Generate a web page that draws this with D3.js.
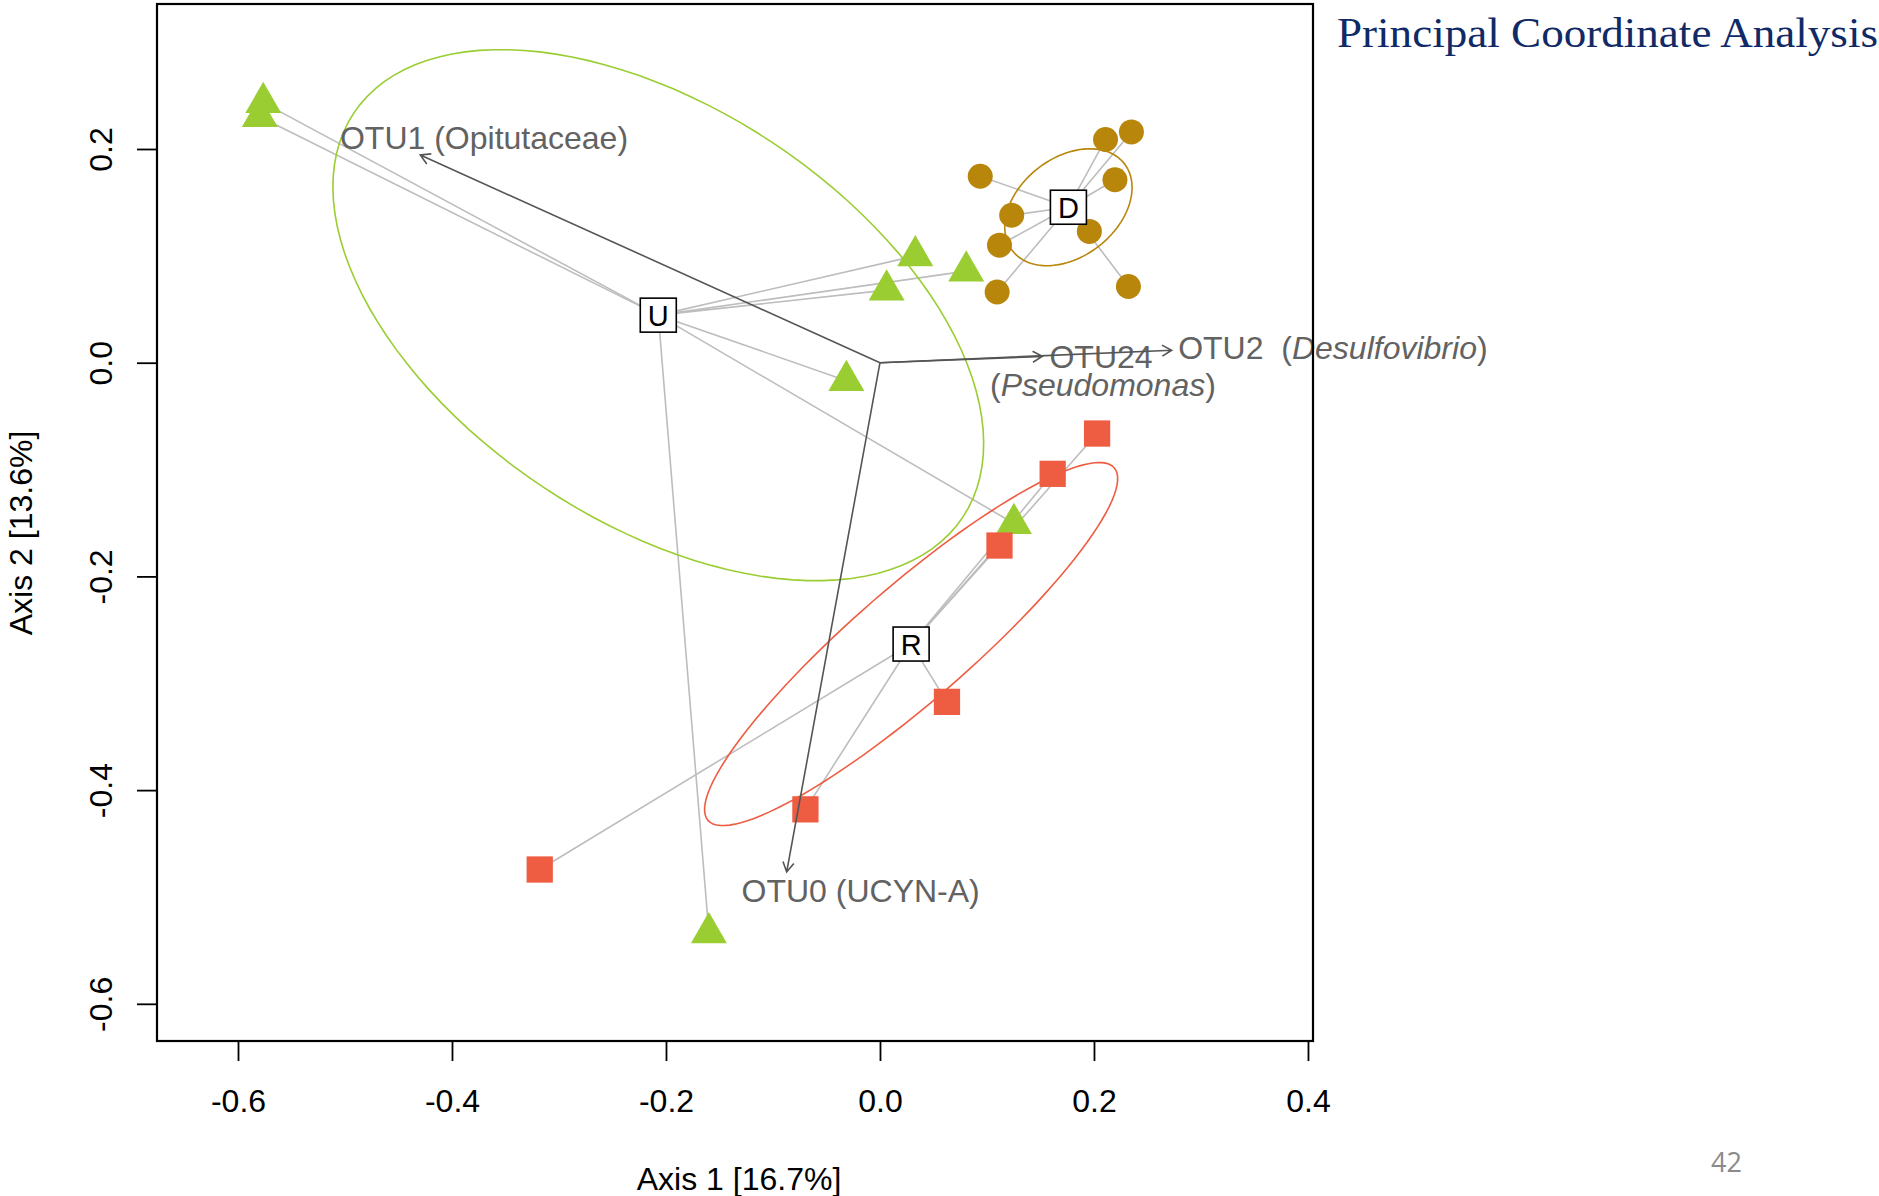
<!DOCTYPE html>
<html>
<head>
<meta charset="utf-8">
<script src="https://cdn.jsdelivr.net/npm/d3@7"></script>
<style>
  body { margin: 0; background: #fff; }
  text { font-family: "Liberation Sans", Arial, sans-serif; }
</style>
</head>
<body>
<script>
// sample scores on Axis 1 / Axis 2
var ptsU = [[-0.5764, 0.2434], [-0.5796, 0.2302], [0.0330, 0.1000], [0.0806, 0.0857],
            [0.0062, 0.0679], [-0.0314, -0.0168], [0.1252, -0.1505], [-0.1599, -0.5335]];
var ptsD = [[0.0937, 0.1745], [0.2108, 0.2089], [0.2350, 0.2160], [0.2196, 0.1712], [0.1231, 0.1380],
            [0.1957, 0.1229], [0.1117, 0.1100], [0.1095, 0.0662], [0.2322, 0.0713]];
var ptsR = [[0.2029, -0.0663], [0.1614, -0.1040], [0.1117, -0.1711], [0.0626, -0.3174],
            [-0.0697, -0.4180], [-0.3180, -0.4743]];

var groupNames = ["U", "D", "R"];
var groupCentres = [[-0.2072, 0.0445], [0.1761, 0.1455], [0.0291, -0.2633]];
// ellipse semi-axes (axis units) and tilt (degrees)
var ellA = [0.3417, 0.0663, 0.2515];
var ellB = [0.1936, 0.0462, 0.0537];
var ellAngle = [-33.6, 38, 41];

// OTU vectors from the origin
var otuNames = ["OTU1", "OTU0", "OTU24", "OTU2"];
var otuTips = [[-0.4296, 0.1944], [-0.0872, -0.4766], [0.1517, 0.0059], [0.2726, 0.0117]];
var labelAt = [[-0.5047, 0.2000], [-0.1294, -0.5044], [0.1584, -0.0045], [0.1028, -0.0312], [0.2787, 0.0037]];
var labelParts = [
  [["OTU1 (Opitutaceae)", 0]],
  [["OTU0 (UCYN-A)", 0]],
  [["OTU24", 0]],
  [["(", 0], ["Pseudomonas", 1], [")", 0]],
  [["OTU2  (", 0], ["Desulfovibrio", 1], [")", 0]]
];

var xTicks = [-0.6, -0.4, -0.2, 0.0, 0.2, 0.4];
var yTicks = [-0.6, -0.4, -0.2, 0.0, 0.2];
var xlim = [-0.6757, 0.4047], ylim = [-0.6348, 0.3357];

var W = 1879, H = 1196;
var box = {left: 157, right: 1313, top: 4, bottom: 1041};

var x = d3.scaleLinear().domain(xlim).range([box.left, box.right]);
var y = d3.scaleLinear().domain(ylim).range([box.bottom, box.top]);

var svg = d3.select("body").append("svg")
    .attr("width", W)
    .attr("height", H);

var colU = "#9ACD32", colD = "#B8860B", colR = "#EE5C42";
var groupCols = [colU, colD, colR];
var groupPts = [ptsU, ptsD, ptsR];

//spider lines
groupPts.forEach(function(pts, i) {
  svg.append("g").selectAll("line")
    .data(pts)
    .enter().append("line")
      .attr("x1", x(groupCentres[i][0]))
      .attr("y1", y(groupCentres[i][1]))
      .attr("x2", function(d) { return x(d[0]); })
      .attr("y2", function(d) { return y(d[1]); })
      .attr("stroke", "#bdbdbd")
      .attr("stroke-width", 1.6);
});

//ellipses
function ellipsePts(c, a, b, ang) {
  var th = ang * Math.PI / 180;
  return d3.range(0, 360, 3).map(function(deg) {
    var t = deg * Math.PI / 180;
    return [c[0] + a * Math.cos(t) * Math.cos(th) - b * Math.sin(t) * Math.sin(th),
            c[1] + a * Math.cos(t) * Math.sin(th) + b * Math.sin(t) * Math.cos(th)];
  });
}
var line = d3.line()
    .x(function(d) { return x(d[0]); })
    .y(function(d) { return y(d[1]); })
    .curve(d3.curveLinearClosed);

groupCentres.forEach(function(c, i) {
  svg.append("path")
    .attr("d", line(ellipsePts(c, ellA[i], ellB[i], ellAngle[i])))
    .attr("fill", "none")
    .attr("stroke", groupCols[i])
    .attr("stroke-width", 1.6);
});

//points
var shapes = [d3.symbol(d3.symbolTriangle, 561), d3.symbol(d3.symbolCircle, 491), d3.symbol(d3.symbolSquare, 690)];
groupPts.forEach(function(pts, i) {
  svg.append("g").selectAll("path")
    .data(pts)
    .enter().append("path")
      .attr("d", shapes[i])
      .attr("transform", function(d) { return "translate(" + x(d[0]) + "," + y(d[1]) + ")"; })
      .attr("fill", groupCols[i]);
});

//group labels
var gl = svg.append("g").selectAll("g")
    .data(groupCentres)
    .enter().append("g")
      .attr("transform", function(d) { return "translate(" + x(d[0]) + "," + y(d[1]) + ")"; });
gl.append("rect")
    .attr("x", -18).attr("y", -17)
    .attr("width", 36).attr("height", 34)
    .attr("fill", "#fff")
    .attr("stroke", "#000")
    .attr("stroke-width", 1.6);
gl.append("text")
    .attr("text-anchor", "middle")
    .attr("y", 10.5)
    .attr("font-size", "29px")
    .text(function(d, i) { return groupNames[i]; });

//OTU labels
labelAt.forEach(function(p, i) {
  var t = svg.append("text")
      .attr("x", x(p[0]))
      .attr("y", y(p[1]))
      .attr("font-size", "32px")
      .attr("fill", "#626262")
      .style("white-space", "pre");
  labelParts[i].forEach(function(part) {
    t.append("tspan")
      .attr("font-style", part[1] ? "italic" : "normal")
      .text(part[0]);
  });
});

//OTU arrows
var x0 = x(0), y0 = y(0);
otuTips.forEach(function(tip, i) {
  var tx = x(tip[0]), ty = y(tip[1]);
  var ang = Math.atan2(ty - y0, tx - x0), len = 11, spread = Math.PI / 6;
  var p = d3.path();
  p.moveTo(x0, y0); p.lineTo(tx, ty);
  p.moveTo(tx - len * Math.cos(ang - spread), ty - len * Math.sin(ang - spread));
  p.lineTo(tx, ty);
  p.lineTo(tx - len * Math.cos(ang + spread), ty - len * Math.sin(ang + spread));
  svg.append("path")
    .attr("class", "arrow " + otuNames[i])
    .attr("d", p.toString())
    .attr("fill", "none")
    .attr("stroke", "#555")
    .attr("stroke-width", 1.6);
});

//axes
var fmt = function(d) { return d.toFixed(1); };
svg.append("g")
    .attr("transform", "translate(0," + box.bottom + ")")
    .call(d3.axisBottom(x).tickValues(xTicks).tickFormat(fmt).tickSize(20))
    .call(function(g) {
      g.select(".domain").remove();
      g.selectAll("line").attr("stroke", "#000").attr("stroke-width", 1.8);
      g.selectAll("text").attr("y", 71).attr("dy", null)
        .attr("font-size", "32px").style("font-family", "Liberation Sans, Arial, sans-serif").attr("fill", "#000");
    });

svg.append("g")
    .attr("transform", "translate(" + box.left + ",0)")
    .call(d3.axisLeft(y).tickValues(yTicks).tickFormat(fmt).tickSize(20))
    .call(function(g) {
      g.select(".domain").remove();
      g.selectAll("line").attr("stroke", "#000").attr("stroke-width", 1.8);
      g.selectAll("text").attr("x", null).attr("dy", null)
        .attr("text-anchor", "middle")
        .attr("transform", "translate(-45,0) rotate(-90)")
        .attr("font-size", "32px").style("font-family", "Liberation Sans, Arial, sans-serif").attr("fill", "#000");
    });

svg.append("rect")
    .attr("x", box.left).attr("y", box.top)
    .attr("width", box.right - box.left).attr("height", box.bottom - box.top)
    .attr("fill", "none")
    .attr("stroke", "#000")
    .attr("stroke-width", 2.2);

svg.append("text")
    .attr("x", 739).attr("y", 1190)
    .attr("text-anchor", "middle")
    .attr("font-size", "32px")
    .text("Axis 1 [16.7%]");

svg.append("text")
    .attr("transform", "translate(32,533) rotate(-90)")
    .attr("text-anchor", "middle")
    .attr("font-size", "32px")
    .text("Axis 2 [13.6%]");

//slide title and page number
svg.append("text")
    .attr("x", 1337).attr("y", 47)
    .style("font-family", "'Liberation Serif', 'Times New Roman', serif")
    .attr("font-size", "42px")
    .attr("fill", "#0f2a66")
    .attr("textLength", 541)
    .attr("lengthAdjust", "spacingAndGlyphs")
    .text("Principal Coordinate Analysis");

svg.append("text")
    .attr("x", 1711).attr("y", 1172)
    .style("font-family", "'Open Sans', 'Noto Sans', sans-serif")
    .attr("font-size", "27px")
    .attr("fill", "#8a8a8a")
    .text("42");
</script>
</body>
</html>
